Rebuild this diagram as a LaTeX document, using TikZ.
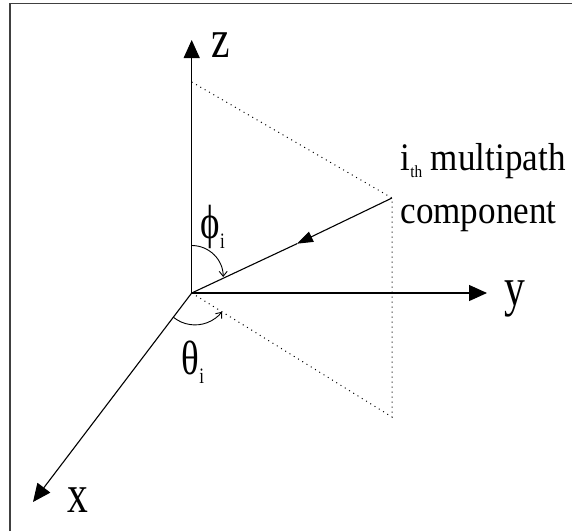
\documentclass[tikz,border=0pt]{standalone}
\usepackage{fontspec}
\setmainfont{Liberation Serif}
\newfontfamily\axisfont[FakeStretch=0.77]{Liberation Serif}
\newfontfamily\captionfont[FakeStretch=0.9]{Liberation Serif}
\usetikzlibrary{arrows.meta}
\newcommand\lowsub[2]{\raisebox{-#1}{\fontsize{22}{22}\selectfont #2}}

\begin{document}
\begin{tikzpicture}[x=1pt, y=-1pt, line width=1.1pt,
  axis/.style={-{Triangle[length=18pt, width=16pt]}},
  ray/.style={-{Triangle[length=16pt, width=11pt]}},
  guide/.style={line width=1pt, dash pattern=on 1pt off 4pt},
  anglearc/.style={line width=0.9pt, -{Straight Barb[length=5pt, width=8pt]}},
  axislabel/.style={font=\axisfont\fontsize{54}{54}\selectfont, inner sep=0pt, anchor=base west},
  greek/.style={font=\axisfont\fontsize{48}{48}\selectfont, inner sep=0pt, anchor=base west},
  caption/.style={font=\captionfont\fontsize{39}{39}\selectfont, inner sep=0pt, anchor=base west}]

  \useasboundingbox (0,0) rectangle (572,531);
  \draw[line width=1.5pt, black!75] (10,531) -- (10,3.5) -- (572,3.5);

  % axes
  \coordinate (O) at (191.7,293);
  \coordinate (ztip) at (191.7,40);
  \coordinate (ytip) at (487,293);
  \coordinate (xtip) at (33,502);
  \draw[axis] (O) -- (ztip);
  \draw[axis] (O) -- (ytip);
  \draw[axis] (O) -- (xtip);

  % projection of the path
  \coordinate (zfoot) at (191.7,82);
  \coordinate (P) at (392,198);
  \coordinate (C) at (392,417);
  \coordinate (mid) at (297,243.7);
  \draw[guide] (zfoot) -- (P) -- (C) -- (O);
  \draw[ray] (P) -- (mid);
  \draw (mid) -- (O);

  % angles
  \coordinate (phictr) at (191.7,277);
  \coordinate (thetactr) at (195,290.6);
  \draw[anglearc] (phictr) ++(90:31.5pt) arc[start angle=90, end angle=0, radius=31.5pt];
  \draw[anglearc] (thetactr) ++(231:34.3pt) arc[start angle=231, end angle=322, radius=34.3pt];

  % labels
  \node[axislabel] (zlab) at (211,57) {z};
  \node[axislabel] (ylab) at (504,305) {y};
  \node[axislabel] (xlab) at (67,512) {x};
  \node[greek] (philab) at (200,238) {ϕ\lowsub{10pt}{i}};
  \node[greek] (thetalab) at (181,374) {θ\lowsub{9pt}{i}};
  \node[caption] (line1) at (400,170) {i\raisebox{-7pt}{\fontsize{17}{17}\selectfont th} multipath};
  \node[caption] (line2) at (400,223) {component};
\end{tikzpicture}
\end{document}
